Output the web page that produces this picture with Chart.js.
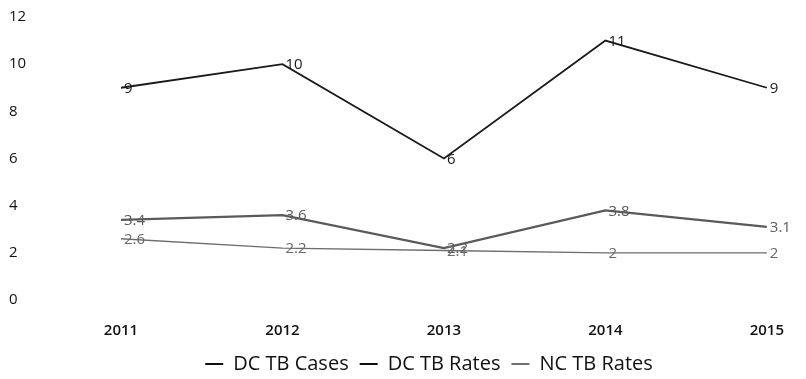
<!DOCTYPE html>
<html>
<head>
<meta charset="utf-8">
<script src="https://cdn.jsdelivr.net/npm/chart.js@4.4.1/dist/chart.umd.min.js"></script>
<style>
  html, body { margin: 0; padding: 0; background: #ffffff; }
  #wrap { width: 806px; height: 379px; position: relative; }
</style>
</head>
<body>
<div id="wrap"><canvas id="c" width="806" height="379"></canvas></div>
<script>
const years = ['2011', '2012', '2013', '2014', '2015'];
const dcCases = [9, 10, 6, 11, 9];
const dcRates = [3.4, 3.6, 2.2, 3.8, 3.1];
const ncRates = [2.6, 2.2, 2.1, 2, 2];
const yTicks = [0, 2, 4, 6, 8, 10, 12];

const FONT = "'Open Sans', 'Liberation Sans', sans-serif";

// Value labels written just right of each point, vertically centred on it
const pointLabels = {
  id: 'pointLabels',
  afterDatasetsDraw(chart) {
    const ctx = chart.ctx;
    ctx.save();
    ctx.font = '15px ' + FONT;
    ctx.textBaseline = 'middle';
    ctx.textAlign = 'left';
    chart.data.datasets.forEach((ds, i) => {
      const meta = chart.getDatasetMeta(i);
      meta.data.forEach((pt, j) => {
        ctx.fillStyle = ds.labelColor;
        ctx.fillText(String(ds.data[j]), pt.x + 3, pt.y + 1);
      });
    });
    ctx.restore();
  }
};

// Nudge the legend block right/down so it sits under the plot's centre
const legendShift = {
  id: 'legendShift',
  afterLayout(chart) {
    const lg = chart.legend;
    if (!lg) return;
    lg.left += 38; lg.right += 38;
    lg.top += 5; lg.bottom += 5;
  }
};

new Chart(document.getElementById('c'), {
  type: 'line',
  data: {
    labels: years,
    datasets: [
      { label: 'DC TB Cases', data: dcCases, borderColor: '#1a1a1a', borderWidth: 1.8,
        labelColor: '#1a1a1a', pointRadius: 0, tension: 0 },
      { label: 'DC TB Rates', data: dcRates, borderColor: '#5a5a5a', borderWidth: 2.2,
        labelColor: '#5a5a5a', pointRadius: 0, tension: 0 },
      { label: 'NC TB Rates', data: ncRates, borderColor: '#6e6e6e', borderWidth: 1.4,
        labelColor: '#6a6a6a', pointRadius: 0, tension: 0 }
    ]
  },
  options: {
    responsive: false,
    animation: false,
    layout: { padding: { top: 17, left: 9, right: 33, bottom: 0 } },
    plugins: {
      tooltip: { enabled: false },
      legend: {
        position: 'bottom',
        labels: {
          usePointStyle: true,
          pointStyle: 'line',
          pointStyleWidth: 18,
          boxHeight: 2,
          padding: 11,
          color: '#111',
          font: { family: FONT, size: 20 },
          generateLabels(chart) {
            return chart.data.datasets.map((ds, i) => ({
              text: ds.label,
              strokeStyle: '#111',
              fillStyle: '#111',
              lineWidth: i === 2 ? 1.2 : 2,
              pointStyle: 'line',
              fontColor: '#111',
              datasetIndex: i
            }));
          }
        }
      }
    },
    scales: {
      x: {
        offset: false,
        afterFit(scale) { scale.height = 38; },
        grid: { display: false, drawTicks: false },
        border: { display: false },
        ticks: { color: '#111', padding: 22, font: { family: FONT, size: 15, weight: '600' } }
      },
      y: {
        min: 0, max: 12,
        afterBuildTicks(scale) { scale.ticks = yTicks.map(v => ({ value: v })); },
        afterFit(scale) { scale.width = 112; },
        grid: { display: false, drawTicks: false },
        border: { display: false },
        ticks: { color: '#111', crossAlign: 'far', font: { family: FONT, size: 15 } }
      }
    }
  },
  plugins: [pointLabels, legendShift]
});
</script>
</body>
</html>
